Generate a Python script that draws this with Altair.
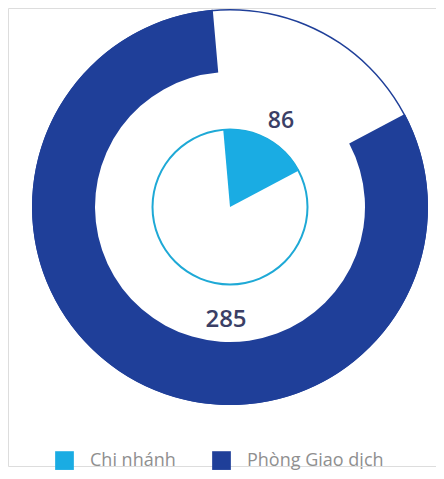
import altair as alt
import pandas as pd

# Series (values shown as labels)
categories = ["Chi nhánh", "Phòng Giao dịch"]
values = [86, 285]
# Arc spans, in degrees clockwise from 12 o'clock
arc_start_deg = [-5, 62]
arc_end_deg = [62, 355]

colors = ["#1aace3", "#1f3f99"]
text_color = "#3b3f66"

df = pd.DataFrame({
    "category": categories,
    "value": values,
    "start": arc_start_deg,
    "end": arc_end_deg,
})

CX, CY = 222, 199  # centre in plot coordinates

theta_scale = alt.Scale(domain=[0, 360], range=[0, 6.283185307179586])
color_scale = alt.Scale(domain=categories, range=colors)

legend = alt.Legend(
    title=None,
    orient="none",
    legendX=47,
    legendY=443,
    direction="horizontal",
    symbolType="square",
    symbolSize=350,
    symbolStrokeWidth=0,
    symbolOpacity=1,
    labelFont="Open Sans",
    labelFontSize=18,
    labelColor="#8f8f8f",
    labelOffset=16,
    columnPadding=36,
)

base = alt.Chart(df)

# thin outline of the outer ring
outline = base.transform_filter(alt.datum.category == "Phòng Giao dịch").mark_arc(
    radius=198, radius2=196.5, color="#1f3f99"
).encode(
    x=alt.value(CX), y=alt.value(CY),
    theta=alt.value(0), theta2=alt.value(6.2832),
)

outer = base.transform_filter(alt.datum.category == "Phòng Giao dịch").mark_arc(
    radius=198, radius2=135
).encode(
    x=alt.value(CX), y=alt.value(CY),
    theta=alt.Theta("start:Q", scale=theta_scale),
    theta2="end:Q",
    color=alt.Color("category:N", scale=color_scale, legend=legend, sort=categories),
)

inner_ring = base.transform_filter(alt.datum.category == "Chi nhánh").mark_arc(
    radius=78.5, radius2=76.5, color="#1ea9d6"
).encode(
    x=alt.value(CX), y=alt.value(CY),
    theta=alt.value(0), theta2=alt.value(6.2832),
)

wedge = base.transform_filter(alt.datum.category == "Chi nhánh").mark_arc(
    radius=78
).encode(
    x=alt.value(CX), y=alt.value(CY),
    theta=alt.Theta("start:Q", scale=theta_scale),
    theta2="end:Q",
    color=alt.Color("category:N", scale=color_scale, legend=legend, sort=categories),
)

label_small = base.transform_filter(alt.datum.category == "Chi nhánh").mark_text(
    font="Open Sans", fontSize=23, fontWeight=600, color=text_color,
    align="center", baseline="middle",
).encode(x=alt.value(273), y=alt.value(113), text="value:Q")

label_big = base.transform_filter(alt.datum.category == "Phòng Giao dịch").mark_text(
    font="Open Sans", fontSize=24, fontWeight=600, color=text_color,
    align="center", baseline="middle",
).encode(x=alt.value(218), y=alt.value(312), text="value:Q")

chart = alt.layer(outline, outer, inner_ring, wedge, label_small, label_big).properties(
    width=428, height=458, padding=0
).configure_view(strokeWidth=0).configure(background="white")

chart.save("out.html", embed_options={"renderer": "svg", "actions": False})
